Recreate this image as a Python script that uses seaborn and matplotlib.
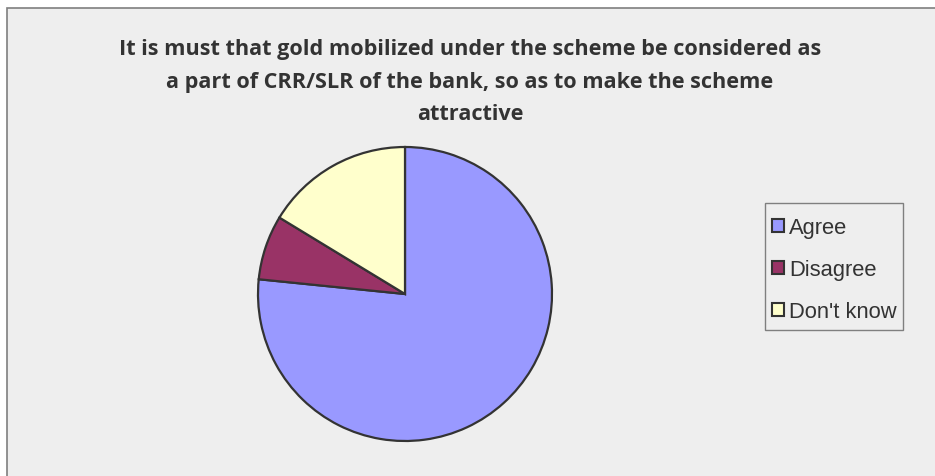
import matplotlib
matplotlib.use("Agg")
import matplotlib.pyplot as plt
from matplotlib.patches import Rectangle, Patch
import seaborn as sns

categories = ["Agree", "Disagree", "Don't know"]
values = [76.6, 7.1, 16.3]
colors = ["#9999FF", "#993366", "#FFFFCC"]
title_lines = [
    "It is must that gold mobilized under the scheme be considered as",
    "a part of CRR/SLR of the bank, so as to make the scheme",
    "attractive",
]

sns.set_theme(style="white")
plt.rcParams['font.family'] = ['Liberation Sans', 'DejaVu Sans']

W, H = 935, 477
fig = plt.figure(figsize=(W / 100, H / 100), dpi=100)
fig.patch.set_facecolor("white")

# chart area background with border (extends past right/bottom edge)
bg = Rectangle((7 / W, 0 - 0.05), 1.0, 1 - 9 / H + 0.05, transform=fig.transFigure,
               facecolor="#EEEEEE", edgecolor="#7F7F7F", linewidth=1.2, zorder=-10)
fig.patches.append(bg)

# title
baselines = [55, 87.7, 120.4]
for line, y in zip(title_lines, baselines):
    fig.text(470 / W, 1 - y / H, line, ha="center", va="baseline",
             fontsize=15.6, fontweight="bold", color="#333333",
             family=["Open Sans", "DejaVu Sans"])

# pie
cx, cy, r = 405, 295, 147
ax = fig.add_axes([(cx - r) / W, 1 - (cy + r) / H, 2 * r / W, 2 * r / H])
ax.pie(values, colors=colors, startangle=90, counterclock=False, radius=1.0,
       wedgeprops=dict(edgecolor="#333333", linewidth=1.6))
ax.set_xlim(-1, 1)
ax.set_ylim(-1, 1)
ax.set_aspect("equal")
ax.axis("off")

# legend frame
lx0, ly0, lx1, ly1 = 764.5, 204, 903.3, 331
frame = Rectangle((lx0 / W, 1 - ly1 / H), (lx1 - lx0) / W, (ly1 - ly0) / H,
                  transform=fig.transFigure, facecolor="#EEEEEE",
                  edgecolor="#7F7F7F", linewidth=1.0, zorder=-5)
fig.patches.append(frame)

handles = [Patch(facecolor=c, edgecolor="#333333", linewidth=1.5) for c in colors]
leg = fig.legend(handles, categories, loc="upper left",
                 bbox_to_anchor=(764.5 / W, 1 - 210 / H),
                 frameon=False, fontsize=15.8,
                 handlelength=0.52, handleheight=0.52, handletextpad=0.25,
                 labelspacing=0.97, borderpad=0.36, borderaxespad=0.0)
for t in leg.get_texts():
    t.set_color("#333333")

fig.savefig("out.png", dpi=100)
